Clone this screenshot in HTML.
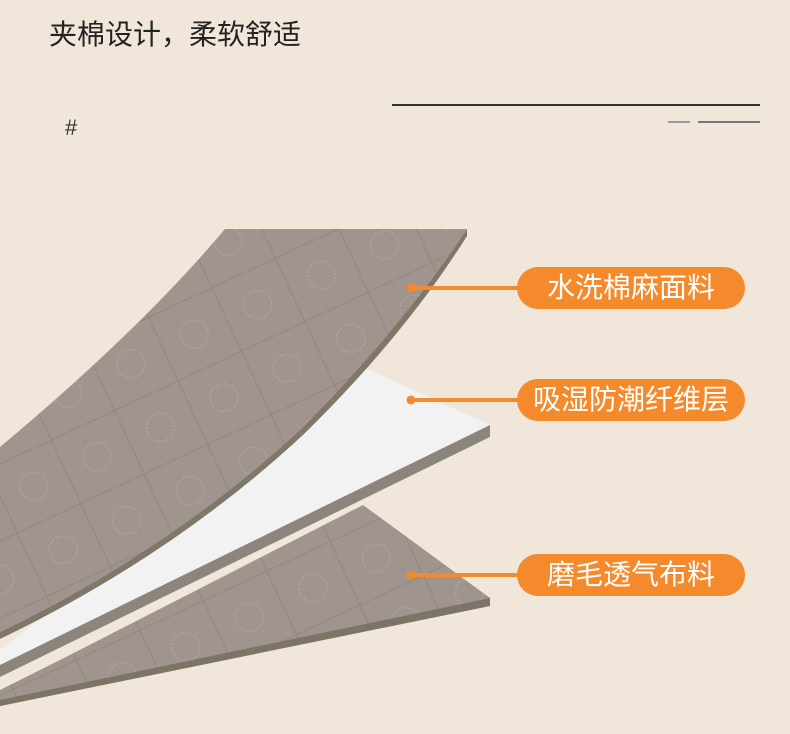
<!DOCTYPE html>
<html><head><meta charset="utf-8"><style>
body{margin:0;width:790px;height:734px;background:#f1e6da;position:relative;overflow:hidden;font-family:"Liberation Sans","Noto Sans CJK SC",sans-serif}
.t{position:absolute;left:49px;top:13px;font-size:28px;color:#222}
.pill{position:absolute;left:517px;width:228px;height:42px;border-radius:21px;background:#f58a2c;color:#fff;font-size:28px;line-height:42px;text-align:center;white-space:nowrap}
</style></head><body>
<div class="t">夹棉设计，柔软舒适</div>
<div style="position:absolute;left:65px;top:115px;font-size:22px;color:#333">#</div>
<div style="position:absolute;left:392px;top:104px;width:368px;height:2px;background:#333"></div>
<div style="position:absolute;left:698px;top:121px;width:62px;height:2px;background:#777"></div>
<div style="position:absolute;left:668px;top:121px;width:22px;height:2px;background:#999"></div>
<svg width="790" height="734" style="position:absolute;left:0;top:0">
<defs>
<pattern id="q" width="70" height="70" patternUnits="userSpaceOnUse" patternTransform="rotate(-25)">
<rect width="70" height="70" fill="#a0948f"/>
<path d="M0 0H70M0 0V70" stroke="#8d817d" stroke-width="1.5"/>
<circle cx="35" cy="35" r="14" fill="none" stroke="#b3a8a4" stroke-width="1.2" stroke-dasharray="2 2"/>
</pattern>
</defs>
<path d="M0 690 L60 660 L363 505 L490 598 L490 606 L0 706 Z" fill="url(#q)"/>
<path d="M490 598 L490 606 L0 706 L0 700 Z" fill="#7d7468"/>
<path d="M0 650 L365 368 L490 425 L490 437 L0 677 Z" fill="#f2f2f2"/>
<path d="M490 425 L490 437 L0 677 L0 665 Z" fill="#8c857c"/>
<path d="M225 229 L467 229 Q400 330 300 430 Q170 550 0 632 L0 447 Q140 330 225 229 Z" fill="url(#q)"/>
<path d="M467 229 L467 236 Q404 336 304 434 Q174 555 0 639 L0 632 Q170 550 300 430 Q400 330 467 229 Z" fill="#7f7768"/>
<g stroke="#f58a2c" stroke-width="4" fill="#f58a2c">
<line x1="411" y1="288" x2="520" y2="288"/><circle cx="411" cy="288" r="4.5" stroke="none"/>
<line x1="411" y1="400" x2="520" y2="400"/><circle cx="411" cy="400" r="4.5" stroke="none"/>
<line x1="411" y1="575" x2="520" y2="575"/><circle cx="411" cy="575" r="4.5" stroke="none"/>
</g>
</svg>
<div class="pill" style="top:267px">水洗棉麻面料</div>
<div class="pill" style="top:379px">吸湿防潮纤维层</div>
<div class="pill" style="top:554px">磨毛透气布料</div>
</body></html>
